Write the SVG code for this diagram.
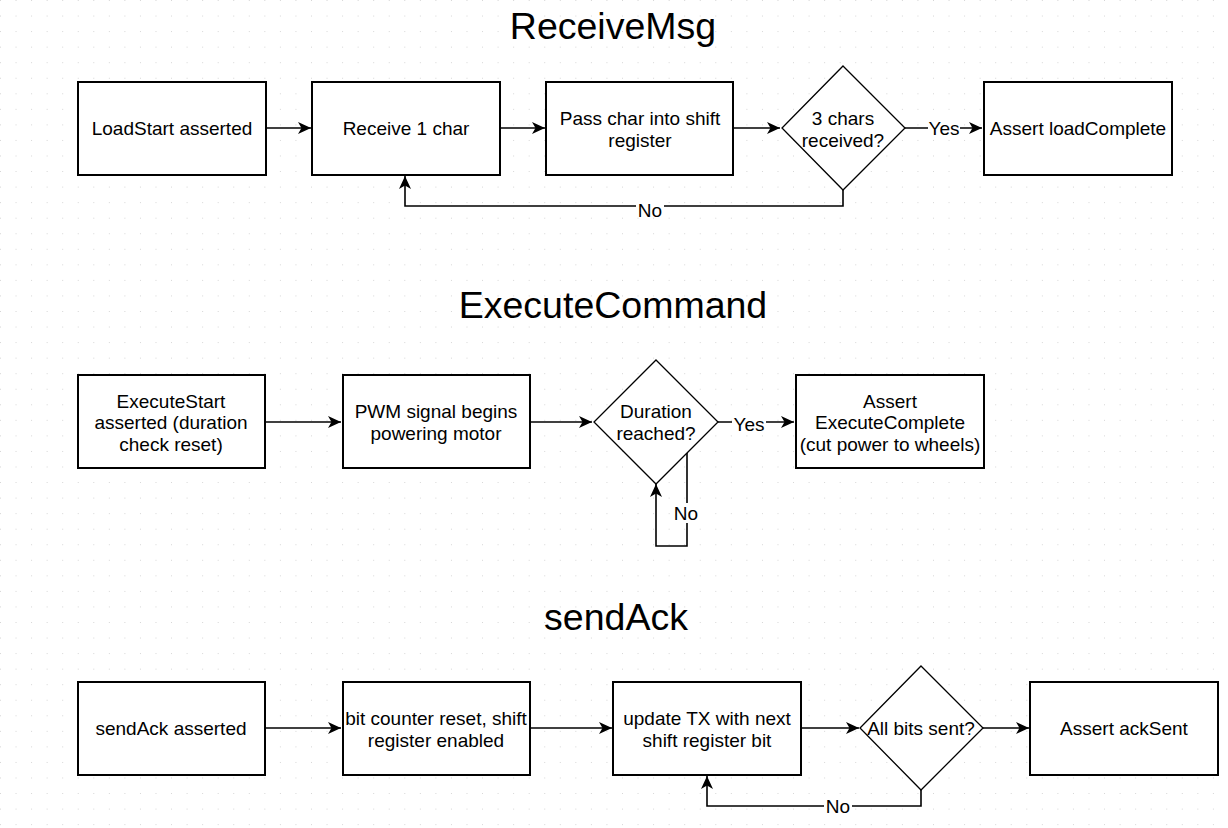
<svg xmlns="http://www.w3.org/2000/svg" width="1228" height="828" viewBox="0 0 1228 828">
<style>
.box{fill:#fff;stroke:#000;stroke-width:2}
.dia{fill:#fff;stroke:#000;stroke-width:1.3}
.t{font-family:"Liberation Sans",Arial,sans-serif;font-size:19px;fill:#000;text-anchor:middle}
.title{font-family:"Liberation Sans",Arial,sans-serif;font-size:37.5px;fill:#000;text-anchor:middle}
.c{fill:none;stroke:#000;stroke-width:1.6}
.lbl{font-family:"Liberation Sans",Arial,sans-serif;font-size:19px;fill:#000;text-anchor:middle}
</style>
<defs>
<pattern id="grid" x="0" y="0" width="15.55" height="15.55" patternUnits="userSpaceOnUse">
<rect x="-0.75" y="-0.75" width="1.5" height="1.5" fill="#b8b8b8"/>
</pattern>
<marker id="arr" markerWidth="14" markerHeight="12" refX="13" refY="6" orient="auto" markerUnits="userSpaceOnUse">
<path d="M0,0 L13,6 L0,12 L3.5,6 z" fill="#000"/>
</marker>
</defs>
<rect width="1228" height="828" fill="#fff"/>
<rect width="1228" height="828" fill="url(#grid)"/>

<text class="title" x="613" y="39">ReceiveMsg</text>
<text class="title" x="613" y="318">ExecuteCommand</text>
<text class="title" x="616" y="630">sendAck</text>

<g id="connectors">
<path class="c" d="M266,128 H311" marker-end="url(#arr)"/>
<path class="c" d="M500,128 H545" marker-end="url(#arr)"/>
<path class="c" d="M733,128 H780" marker-end="url(#arr)"/>
<path class="c" d="M905,128 H982" marker-end="url(#arr)"/>
<path class="c" d="M843,190 V206 H405 V176" marker-end="url(#arr)"/>
<path class="c" d="M265,422 H341" marker-end="url(#arr)"/>
<path class="c" d="M530,422 H592" marker-end="url(#arr)"/>
<path class="c" d="M718,422 H794" marker-end="url(#arr)"/>
<path class="c" d="M687,453 V546 H656 V484" marker-end="url(#arr)"/>
<path class="c" d="M265,728 H341" marker-end="url(#arr)"/>
<path class="c" d="M530,728 H612" marker-end="url(#arr)"/>
<path class="c" d="M801,728 H859" marker-end="url(#arr)"/>
<path class="c" d="M983,728 H1029" marker-end="url(#arr)"/>
<path class="c" d="M921,790 V806 H707 V776" marker-end="url(#arr)"/>
<rect x="928" y="119" width="32" height="19" fill="#fff"/>
<text class="lbl" x="944" y="135">Yes</text>
<rect x="636" y="199" width="28" height="18" fill="#fff"/>
<text class="lbl" x="650" y="217">No</text>
<rect x="732" y="413" width="34" height="19" fill="#fff"/>
<text class="lbl" x="749" y="431">Yes</text>
<rect x="673" y="503" width="28" height="20" fill="#fff"/>
<text class="lbl" x="686" y="520">No</text>
<rect x="824" y="797" width="28" height="18" fill="#fff"/>
<text class="lbl" x="838" y="813">No</text>
</g>

<g id="n1"><rect class="box" x="78" y="82" width="188" height="93"/><text class="t" x="172" y="135">LoadStart asserted</text></g>
<g id="n2"><rect class="box" x="312" y="82" width="188" height="93"/><text class="t" x="406" y="135">Receive 1 char</text></g>
<g id="n3"><rect class="box" x="546" y="82" width="187" height="93"/><text class="t" x="640" y="125">Pass char into shift</text><text class="t" x="640" y="147">register</text></g>
<g id="n4"><path class="dia" d="M843,66 L905,128 L843,190 L782,128 Z"/><text class="t" x="843" y="125">3 chars</text><text class="t" x="843" y="147">received?</text></g>
<g id="n5"><rect class="box" x="984" y="82" width="188" height="93"/><text class="t" x="1078" y="135">Assert loadComplete</text></g>

<g id="n6"><rect class="box" x="78" y="375" width="187" height="93"/><text class="t" x="171" y="408">ExecuteStart</text><text class="t" x="171" y="429">asserted (duration</text><text class="t" x="171" y="451">check reset)</text></g>
<g id="n7"><rect class="box" x="343" y="375" width="187" height="93"/><text class="t" x="436" y="418">PWM signal begins</text><text class="t" x="436" y="440">powering motor</text></g>
<g id="n8"><path class="dia" d="M656,360 L718,422 L656,484 L594,422 Z"/><text class="t" x="656" y="418">Duration</text><text class="t" x="656" y="440">reached?</text></g>
<g id="n9"><rect class="box" x="796" y="375" width="188" height="93"/><text class="t" x="890" y="408">Assert</text><text class="t" x="890" y="429">ExecuteComplete</text><text class="t" x="890" y="451">(cut power to wheels)</text></g>

<g id="n10"><rect class="box" x="78" y="682" width="187" height="93"/><text class="t" x="171" y="735">sendAck asserted</text></g>
<g id="n11"><rect class="box" x="343" y="682" width="187" height="93"/><text class="t" x="436" y="725">bit counter reset, shift</text><text class="t" x="436" y="747">register enabled</text></g>
<g id="n12"><rect class="box" x="613" y="682" width="188" height="93"/><text class="t" x="707" y="725">update TX with next</text><text class="t" x="707" y="747">shift register bit</text></g>
<g id="n13"><path class="dia" d="M921,666 L983,728 L921,790 L860,728 Z"/><text class="t" x="921" y="735">All bits sent?</text></g>
<g id="n14"><rect class="box" x="1030" y="682" width="188" height="93"/><text class="t" x="1124" y="735">Assert ackSent</text></g>
</svg>
